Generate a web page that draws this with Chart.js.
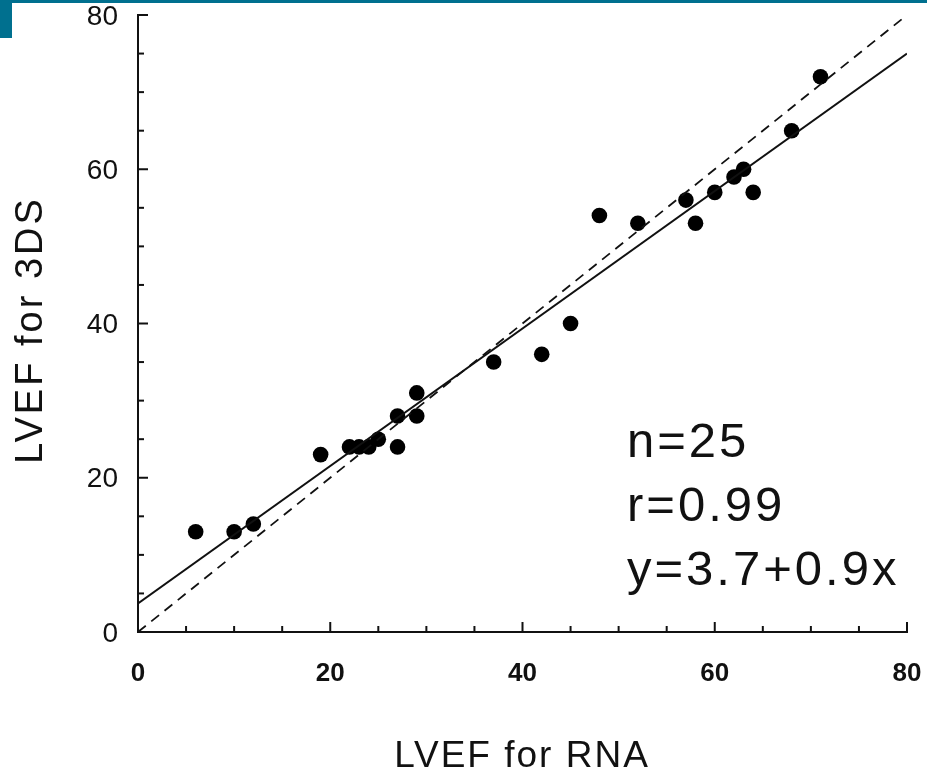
<!DOCTYPE html>
<html>
<head>
<meta charset="utf-8">
<script src="https://cdn.jsdelivr.net/npm/chart.js@4/dist/chart.umd.min.js"></script>
<style>
  html, body { margin: 0; padding: 0; background: #fff; }
  #wrap { position: relative; width: 927px; height: 771px; }
  #bar { position: absolute; left: 0; top: 0; width: 927px; height: 3px; background: #00708f; }
  #tab { position: absolute; left: 0; top: 0; width: 12px; height: 38px; background: #00708f; }
  canvas { position: absolute; left: 0; top: 0; }
</style>
</head>
<body>
<div id="wrap">
  <canvas id="c" width="927" height="771"></canvas>
  <div id="bar"></div>
  <div id="tab"></div>
</div>
<script>
// ─── DATOS ────────────────────────────────────────────────────────────────
const rnaX = [6, 10, 12, 19, 22, 23, 24, 25, 27, 27, 29, 29, 37, 42, 45, 48, 52, 57, 58, 60, 62, 63, 64, 68, 71];
const dsY  = [13, 13, 14, 23, 24, 24, 24, 25, 28, 24, 31, 28, 35, 36, 40, 54, 53, 56, 53, 57, 59, 60, 57, 65, 72];

// recta de regresión (extremos) y línea de identidad
const regX = [0, 80];
const regY = [3.7, 75];
const idX  = [0, 80];
const idY  = [0, 80];

const tickLabels = [0, 20, 40, 60, 80];
const statsText  = ["n=25", "r=0.99", "y=3.7+0.9x"];

const toPts = (xs, ys) => xs.map((x, i) => ({ x, y: ys[i] }));

// quita el relleno automático de las escalas para fijar el área del gráfico
const fixPad = s => { s.paddingTop = s.paddingBottom = s.paddingLeft = s.paddingRight = 0; };

// ticks hacia adentro y textos sueltos
const extras = {
  id: "extras",
  afterDraw(chart) {
    const { ctx, chartArea: a, scales: { x, y } } = chart;
    ctx.save();
    ctx.strokeStyle = "#111";
    ctx.lineWidth = 2;
    x.ticks.forEach(t => {
      const px = x.getPixelForValue(t.value);
      const len = tickLabels.includes(t.value) ? 10 : 6;
      ctx.beginPath(); ctx.moveTo(px, a.bottom); ctx.lineTo(px, a.bottom - len); ctx.stroke();
    });
    y.ticks.forEach(t => {
      const py = y.getPixelForValue(t.value);
      const len = tickLabels.includes(t.value) ? 10 : 6;
      ctx.beginPath(); ctx.moveTo(a.left, py); ctx.lineTo(a.left + len, py); ctx.stroke();
    });

    ctx.fillStyle = "#111";
    ctx.textBaseline = "alphabetic";

    // título eje x
    ctx.font = "37px 'Liberation Sans'";
    ctx.letterSpacing = "2px";
    ctx.textAlign = "center";
    ctx.fillText("LVEF for RNA", 522, 767);

    // título eje y
    ctx.save();
    ctx.translate(42, 330);
    ctx.rotate(-Math.PI / 2);
    ctx.font = "38px 'Liberation Sans'";
    ctx.letterSpacing = "3px";
    ctx.fillText("LVEF for 3DS", 0, 0);
    ctx.restore();

    // estadísticos
    ctx.font = "49px 'Liberation Sans'";
    ctx.letterSpacing = "3px";
    ctx.textAlign = "left";
    statsText.forEach((s, i) => ctx.fillText(s, 627, 457 + i * 64));
    ctx.restore();
  }
};

new Chart(document.getElementById("c"), {
  type: "scatter",
  data: {
    datasets: [
      {
        data: toPts(idX, idY),
        showLine: true,
        borderColor: "#111",
        borderWidth: 1.8,
        borderDash: [10, 7],
        pointRadius: 0
      },
      {
        data: toPts(regX, regY),
        showLine: true,
        borderColor: "#111",
        borderWidth: 2,
        pointRadius: 0
      },
      {
        data: toPts(rnaX, dsY),
        backgroundColor: "#000",
        borderColor: "#000",
        pointRadius: 7.8,
        pointBorderWidth: 0
      }
    ]
  },
  options: {
    responsive: false,
    animation: false,
    layout: { padding: { top: 15, right: 20, left: 0, bottom: 0 } },
    plugins: { legend: { display: false }, tooltip: { enabled: false } },
    scales: {
      x: {
        type: "linear", min: 0, max: 80,
        grid: { display: false, drawTicks: false },
        border: { display: true, color: "#111", width: 2 },
        ticks: {
          stepSize: 5, autoSkip: false, padding: 26, color: "#111",
          maxRotation: 0,
          font: { family: "Liberation Sans", size: 26, weight: "bold" },
          callback: v => tickLabels.includes(v) ? String(v) : ""
        },
        afterFit: s => { s.height = 139; fixPad(s); }
      },
      y: {
        type: "linear", min: 0, max: 80,
        grid: { display: false, drawTicks: false },
        border: { display: true, color: "#111", width: 2 },
        ticks: {
          stepSize: 5, autoSkip: false, padding: 20, color: "#111",
          labelOffset: 2,
          font: { family: "Liberation Sans", size: 28 },
          callback: v => tickLabels.includes(v) ? String(v) : ""
        },
        afterFit: s => { s.width = 138; fixPad(s); }
      }
    }
  },
  plugins: [extras]
});
</script>
</body>
</html>
